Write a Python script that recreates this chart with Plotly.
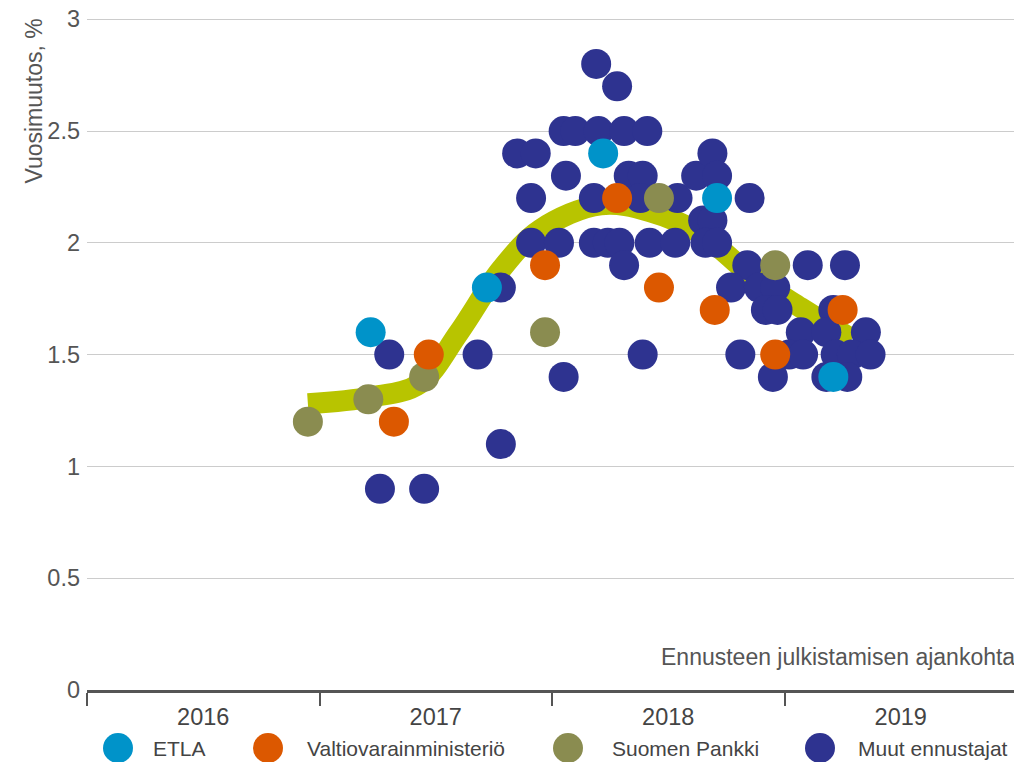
import plotly.graph_objects as go

# Publication time as decimal year, annual change %
etla_x = [2017.22, 2017.72, 2018.22, 2018.71, 2019.21]
etla_y = [1.6, 1.8, 2.4, 2.2, 1.4]

vm_x = [2017.32, 2017.47, 2017.97, 2018.28, 2018.46, 2018.70, 2018.96, 2019.25]
vm_y = [1.2, 1.5, 1.9, 2.2, 1.8, 1.7, 1.5, 1.7]

sp_x = [2016.95, 2017.21, 2017.45, 2017.97, 2018.46, 2018.96]
sp_y = [1.2, 1.3, 1.4, 1.6, 2.2, 1.9]

muut_x = [2017.26, 2017.45, 2017.30, 2017.68, 2017.78, 2017.78, 2017.85, 2017.93,
          2017.91, 2017.91, 2018.03, 2018.06, 2018.05, 2018.05, 2018.10, 2018.20,
          2018.31, 2018.41, 2018.19, 2018.28, 2018.18, 2018.18, 2018.24, 2018.29,
          2018.31, 2018.33, 2018.39, 2018.38, 2018.54, 2018.42, 2018.53, 2018.39,
          2018.62, 2018.69, 2018.71, 2018.85, 2018.65, 2018.69, 2018.66, 2018.71,
          2018.84, 2019.10, 2019.26, 2018.77, 2018.89, 2018.96, 2018.92, 2018.97,
          2019.21, 2019.07, 2019.18, 2019.35, 2018.81, 2019.02, 2019.08, 2019.22,
          2019.29, 2019.37, 2018.95, 2019.18, 2019.27]
muut_y = [0.9, 0.9, 1.5, 1.5, 1.1, 1.8, 2.4, 2.4,
          2.2, 2.0, 2.0, 2.3, 1.4, 2.5, 2.5, 2.5,
          2.5, 2.5, 2.8, 2.7, 2.2, 2.0, 2.0, 2.0,
          1.9, 2.3, 2.3, 2.2, 2.2, 2.0, 2.0, 1.5,
          2.3, 2.4, 2.3, 2.2, 2.1, 2.1, 2.0, 2.0,
          1.9, 1.9, 1.9, 1.8, 1.8, 1.8, 1.7, 1.7,
          1.7, 1.6, 1.6, 1.6, 1.5, 1.5, 1.5, 1.5,
          1.5, 1.5, 1.4, 1.4, 1.4]

trend_x = [2016.95, 2017.22, 2017.43, 2017.60, 2017.78, 2017.95, 2018.21,
           2018.42, 2018.64, 2018.85, 2019.07, 2019.29]
trend_y = [1.28, 1.31, 1.37, 1.60, 1.88, 2.06, 2.17, 2.14, 2.04, 1.86, 1.71, 1.57]

year_ticks = [2016.5, 2017.5, 2018.5, 2019.5]
year_labels = ['2016', '2017', '2018', '2019']

legend_labels = ['ETLA', 'Valtiovarainministeriö', 'Suomen Pankki', 'Muut ennustajat']
legend_colors = ['#0093c9', '#dc5800', '#8a8c50', '#2e3390']

FONT = 'Liberation Sans, Arial, sans-serif'
GREY = '#555555'

fig = go.Figure()

# smoothed trend line
fig.add_trace(go.Scatter(x=trend_x, y=trend_y, mode='lines',
                         line=dict(color='#b8c400', width=21, shape='spline', smoothing=1.0),
                         showlegend=False, hoverinfo='skip'))

series = [(muut_x, muut_y, 3), (sp_x, sp_y, 2), (vm_x, vm_y, 1), (etla_x, etla_y, 0)]
for xs, ys, i in series:
    fig.add_trace(go.Scatter(x=xs, y=ys, mode='markers', name=legend_labels[i],
                             marker=dict(color=legend_colors[i], size=30, line=dict(width=0)),
                             showlegend=False))

# page body has an 8px margin, so the figure is sized to sit inside the window
fig.update_layout(
    width=1014, height=754,
    margin=dict(l=79, r=5, t=9, b=72),
    plot_bgcolor='white', paper_bgcolor='white',
    font=dict(family=FONT, color=GREY, size=23),
    showlegend=False,
)

fig.update_xaxes(
    range=[2016, 2020], automargin=False,
    tickmode='array', tickvals=year_ticks, ticktext=year_labels,
    ticks='', showgrid=False, zeroline=False,
    showline=True, linecolor=GREY, linewidth=3,
    tickfont=dict(size=23.5, color='#444444'), ticklabelstandoff=4,
    minor=dict(tickmode='linear', tick0=2016, dtick=1, ticks='outside',
               ticklen=13, tickwidth=1.5, tickcolor=GREY, showgrid=False),
)
fig.update_yaxes(
    range=[0, 3.01], automargin=False,
    tickvals=[0, 0.5, 1, 1.5, 2, 2.5, 3],
    ticktext=['0', '0.5', '1', '1.5', '2', '2.5', '3'],
    showgrid=True, gridcolor='#cccccc', gridwidth=1,
    zeroline=False, showline=False, ticks='',
    tickfont=dict(size=23.5, color=GREY), ticklabelstandoff=6,
    ticklabeloverflow='allow',
)

# axis titles
fig.add_annotation(x=-0.058, y=1.0, xref='paper', yref='paper', text='Vuosimuutos, %',
                   textangle=-90, showarrow=False, xanchor='center', yanchor='top',
                   font=dict(size=23, color=GREY))
fig.add_annotation(x=1.0, y=(690 - 657) / 673, xref='paper', yref='paper',
                   text='Ennusteen julkistamisen ajankohta',
                   showarrow=False, xanchor='right', yanchor='middle',
                   font=dict(size=23, color=GREY))

# custom legend with large circles
legend_dot_x = [118, 268, 568, 820]
legend_text_x = [151, 305, 610, 856]
leg_y = (690 - 748) / 673
for lab, col, dx, tx in zip(legend_labels, legend_colors, legend_dot_x, legend_text_x):
    fig.add_shape(type='circle', xref='paper', yref='paper',
                  xsizemode='pixel', ysizemode='pixel',
                  xanchor=(dx - 87) / 930, yanchor=leg_y,
                  x0=-15, x1=15, y0=-15, y1=15,
                  fillcolor=col, line=dict(width=0))
    fig.add_annotation(x=(tx - 87) / 930, y=leg_y, xref='paper', yref='paper', text=lab,
                       showarrow=False, xanchor='left', yanchor='middle',
                       font=dict(size=21, color='#444444'))

fig.write_html("out.html")
